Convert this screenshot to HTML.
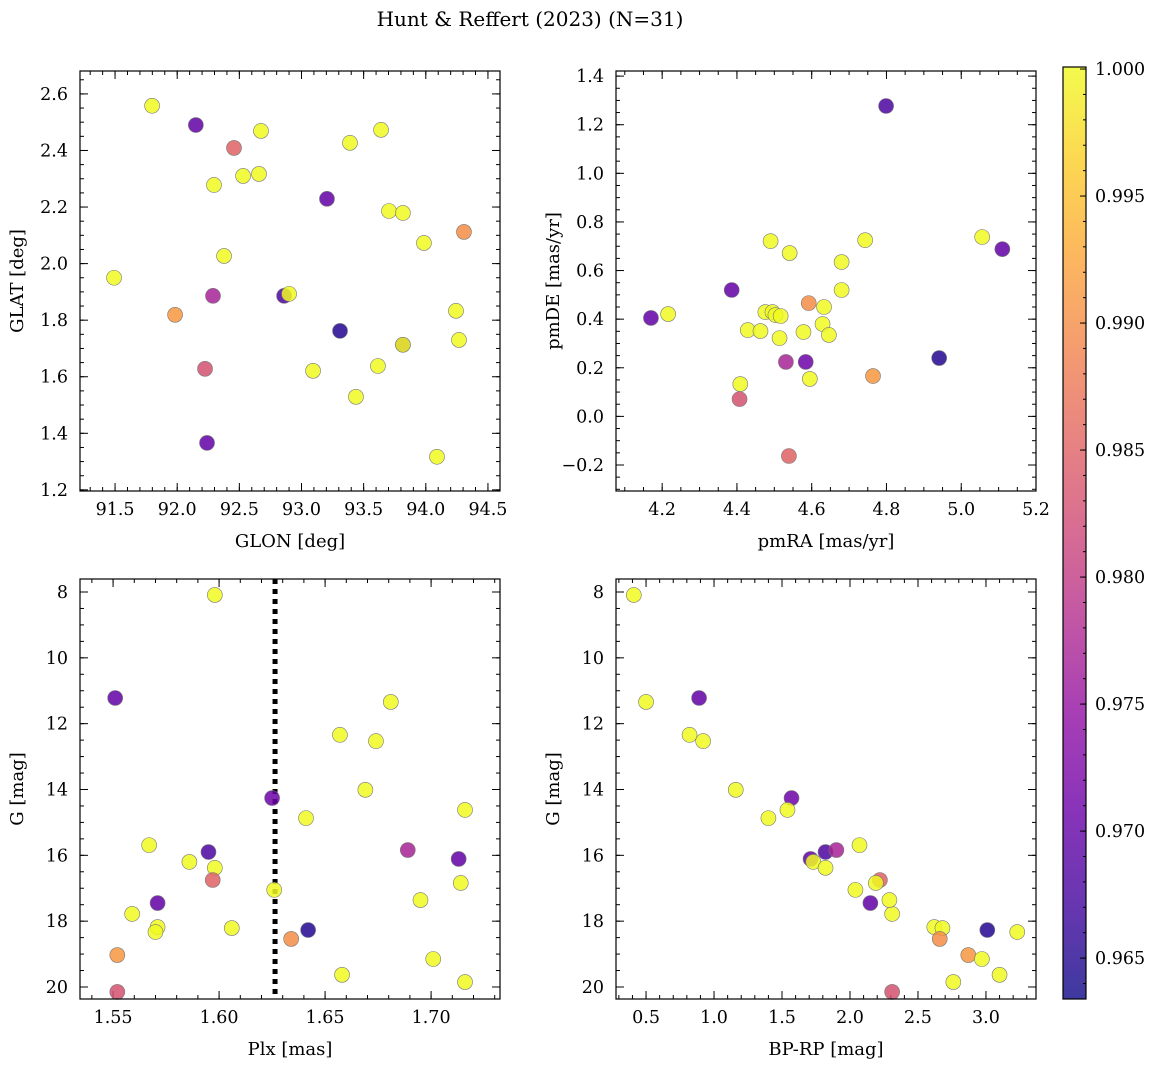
<!DOCTYPE html>
<html><head><meta charset="utf-8"><style>
body{margin:0;background:#fff;}
svg{display:block;font-family:"DejaVu Serif","Liberation Serif",serif;}
</style></head><body>
<svg id="fig" width="1160" height="1067" viewBox="0 0 1160 1067" xmlns="http://www.w3.org/2000/svg">
<text x="530" y="26" font-size="20" text-anchor="middle">Hunt &amp; Reffert (2023) (N=31)</text>
</svg>
<script>
// ---- data (one entry per star) ----
const glon = [91.798,92.15,92.674,92.296,92.530,92.658,93.816,93.390,93.640,93.704,92.86,92.288,92.24,93.816,93.985,92.457,91.492,92.377,93.205,92.900,93.816,94.243,94.267,93.093,93.31,94.307,91.983,93.615,93.438,92.224,94.090];
const glat = [2.558,2.490,2.469,2.278,2.310,2.317,1.713,2.427,2.473,2.186,1.886,1.886,1.366,2.179,2.073,2.409,1.950,2.027,2.229,1.893,1.713,1.833,1.730,1.621,1.762,2.112,1.819,1.638,1.529,1.628,1.317];
const pmra = [4.490,4.386,4.743,5.056,4.541,4.680,4.584,4.680,4.476,4.495,4.799,4.531,4.170,4.633,4.216,4.539,4.503,4.429,5.110,4.463,4.514,4.578,4.629,4.646,4.941,4.592,4.764,4.409,4.595,4.407,4.517];
const pmde = [0.721,0.520,0.725,0.738,0.672,0.635,0.224,0.520,0.429,0.429,1.277,0.224,0.405,0.450,0.421,-0.163,0.417,0.355,0.688,0.351,0.322,0.347,0.380,0.335,0.240,0.466,0.166,0.133,0.154,0.071,0.413];
const plx = [1.598,1.551,1.681,1.657,1.674,1.669,1.625,1.641,1.716,1.567,1.595,1.689,1.713,1.586,1.598,1.597,1.714,1.626,1.571,1.559,1.695,1.571,1.606,1.570,1.642,1.634,1.552,1.701,1.658,1.552,1.716];
const gmag = [8.09,11.22,11.34,12.34,12.53,14.01,14.26,14.87,14.62,15.69,15.90,15.84,16.11,16.20,16.38,16.75,16.84,17.05,17.45,17.78,17.36,18.18,18.21,18.33,18.27,18.54,19.03,19.15,19.63,20.15,19.85];
const bprp = [0.41,0.89,0.50,0.82,0.92,1.16,1.57,1.40,1.54,2.07,1.82,1.90,1.71,1.73,1.82,2.22,2.19,2.04,2.15,2.31,2.29,2.62,2.68,3.23,3.01,2.66,2.87,2.97,3.10,2.31,2.76];
const prob = [1,0.970,1,1,1,1,0.971,1,1,1,0.968,0.977,0.970,1,1,0.985,1,1,0.970,1,1,1,1,1,0.965,0.990,0.991,1,1,0.983,1];
const plxLine = [1.6264];
const cbTicks = [0.965,0.970,0.975,0.980,0.985,0.990,0.995,1.000];

const NS="http://www.w3.org/2000/svg";
const svg=document.getElementById('fig');
function mk(tag,attrs,parent){const e=document.createElementNS(NS,tag);for(const k in attrs)e.setAttribute(k,attrs[k]);(parent||svg).appendChild(e);return e;}
const stops=[[13,8,135],[65,4,157],[106,0,168],[143,13,164],[177,42,144],[204,71,120],[225,100,98],[242,132,75],[252,166,54],[252,206,37],[240,249,33]];
const VMIN=0.9634,VMAX=1.0;
function plasma(t){t=Math.max(0,Math.min(1,t));const f=t*10,i=Math.min(9,Math.floor(f)),u=f-i;const a=stops[i],b=stops[i+1];return 'rgb('+a.map((v,k)=>Math.round(v+(b[k]-v)*u)).join(',')+')';}
function col(p){return plasma((p-VMIN)/(VMAX-VMIN));}
function fmt(v,d){const s=Math.abs(v).toFixed(d);return (v<-1e-9?'\u2212':'')+s;}
const FS=17.5;

function panel(o){
  const g=mk('g',{});
  
  
  const X=v=>o.x0+(v-o.xmin)/(o.xmax-o.xmin)*o.w;
  const Y=o.yinv? v=>o.y0+(v-o.ymin)/(o.ymax-o.ymin)*o.h : v=>o.y0+o.h-(v-o.ymin)/(o.ymax-o.ymin)*o.h;
  const tg=mk('g',{stroke:'#000','stroke-width':1},g);
  function ticks(lo,hi,step,len,axis,label,dec){
    const s=Math.ceil(lo/step-1e-6);
    for(let k=s;k*step<=hi+1e-6;k++){const v=k*step;
      if(axis==='x'){const x=X(v);mk('line',{x1:x,x2:x,y1:o.y0+o.h,y2:o.y0+o.h-len},tg);mk('line',{x1:x,x2:x,y1:o.y0,y2:o.y0+len},tg);
        if(label){const t=mk('text',{x:x,y:o.y0+o.h+24,'font-size':FS,'text-anchor':'middle',stroke:'none'},g);t.textContent=fmt(v,dec);
          }}
      else{const y=Y(v);mk('line',{y1:y,y2:y,x1:o.x0,x2:o.x0+len},tg);mk('line',{y1:y,y2:y,x1:o.x0+o.w,x2:o.x0+o.w-len},tg);
        if(label){const t=mk('text',{x:o.x0-12,y:y+6,'font-size':FS,'text-anchor':'end',stroke:'none'},g);t.textContent=fmt(v,dec);
          }}
    }}
  ticks(o.xmin,o.xmax,o.xmaj,8,'x',true,o.xd);ticks(o.xmin,o.xmax,o.xmaj/o.xn,4,'x',false);
  const ylo=Math.min(o.ymin,o.ymax),yhi=Math.max(o.ymin,o.ymax);
  ticks(ylo,yhi,o.ymaj,8,'y',true,o.yd);ticks(ylo,yhi,o.ymaj/o.yn,4,'y',false);
  const xl=mk('text',{x:o.x0+o.w/2,y:o.y0+o.h+56,'font-size':18,'text-anchor':'middle'},g);xl.textContent=o.xlab;
  
  const cy=o.y0+o.h/2,cx=o.x0-57;
  const yl=mk('text',{x:cx,y:cy,'font-size':18,'text-anchor':'middle',transform:'rotate(-90 '+cx+' '+cy+')'},g);yl.textContent=o.ylab;
  
  if(o.extra)o.extra(g,X,Y);
  for(let i=0;i<o.xs.length;i++){
    const c=mk('circle',{cx:X(o.xs[i]),cy:Y(o.ys[i]),r:7.5,fill:col(prob[i]),'fill-opacity':0.85,stroke:'#777','stroke-width':0.6},g);
    
    
  }
  mk('rect',{x:o.x0,y:o.y0,width:o.w,height:o.h,fill:'none',stroke:'#000','stroke-width':1.2},g);
}
panel({name:'glon-glat-panel',x0:80,y0:71,w:420,h:420,xmin:91.218,xmax:94.597,ymin:1.196,ymax:2.681,xmaj:0.5,xn:5,ymaj:0.2,yn:4,xd:1,yd:1,xlab:'GLON [deg]',ylab:'GLAT [deg]',xs:glon,ys:glat});
panel({name:'proper-motion-panel',x0:616,y0:71,w:420,h:420,xmin:4.0765,xmax:5.2,ymin:-0.307,ymax:1.421,xmaj:0.2,xn:4,ymaj:0.2,yn:4,xd:1,yd:1,xlab:'pmRA [mas/yr]',ylab:'pmDE [mas/yr]',xs:pmra,ys:pmde});
panel({name:'parallax-mag-panel',x0:80,y0:579,w:420,h:420,xmin:1.5344,xmax:1.7325,ymin:7.605,ymax:20.365,yinv:true,xmaj:0.05,xn:5,ymaj:2,yn:4,xd:2,yd:0,xlab:'Plx [mas]',ylab:'G [mag]',xs:plx,ys:gmag,
  extra:(g,X,Y)=>{const l=mk('line',{x1:X(plxLine[0]),x2:X(plxLine[0]),y1:579,y2:999,stroke:'#000','stroke-width':5,'stroke-dasharray':'5,5'},g);}});
panel({name:'cmd-panel',x0:616,y0:579,w:420,h:420,xmin:0.279,xmax:3.368,ymin:7.605,ymax:20.365,yinv:true,xmaj:0.5,xn:5,ymaj:2,yn:4,xd:1,yd:0,xlab:'BP-RP [mag]',ylab:'G [mag]',xs:bprp,ys:gmag});

const cb=mk('g',{});


const cbx=1063,cby=67,cbw=23,cbh=932,cbMax=1.00008,cbMin=0.96339;
const defs=mk('defs',{},cb);const lg=mk('linearGradient',{id:'cbg',x1:0,y1:1,x2:0,y2:0},defs);
for(let k=0;k<=20;k++){mk('stop',{offset:k/20,'stop-color':plasma(k/20)},lg);}
mk('rect',{x:cbx,y:cby,width:cbw,height:cbh,fill:'url(#cbg)','fill-opacity':0.8},cb);
const CY=v=>cby+(cbMax-v)/(cbMax-cbMin)*cbh;
for(let v=0.964;v<=1.0001;v+=0.001){const y=CY(v);mk('line',{x1:cbx+cbw,x2:cbx+cbw-3,y1:y,y2:y,stroke:'#000'},cb);}
cbTicks.forEach(v=>{const y=CY(v);mk('line',{x1:cbx+cbw,x2:cbx+cbw-6,y1:y,y2:y,stroke:'#000'},cb);
  const t=mk('text',{x:cbx+cbw+9,y:y+6,'font-size':FS},cb);t.textContent=v.toFixed(3);
  });
mk('rect',{x:cbx,y:cby,width:cbw,height:cbh,fill:'none',stroke:'#000','stroke-width':1.2},cb);
</script>
</body></html>
